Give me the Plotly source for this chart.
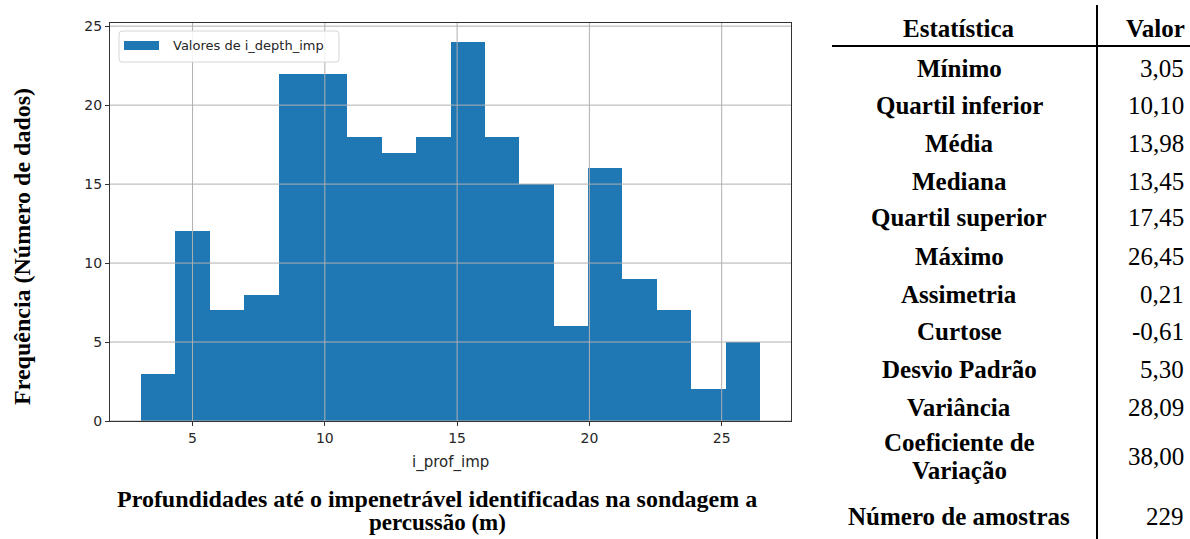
import plotly.graph_objects as go

# Histogram of depths to refusal (i_prof_imp)
bin_start = 3.05
bin_width = 1.3
counts = [3, 12, 7, 8, 22, 22, 18, 17, 18, 24, 18, 15, 6, 16, 9, 7, 2, 5]
series_name = "Valores de i_depth_imp"

x_ticks = [5, 10, 15, 20, 25]
y_ticks = [0, 5, 10, 15, 20, 25]

# Summary statistics table
stat_names = ["Mínimo", "Quartil inferior", "Média", "Mediana", "Quartil superior",
              "Máximo", "Assimetria", "Curtose", "Desvio Padrão", "Variância",
              "Coeficiente de|Variação", "Número de amostras"]
stat_values = ["3,05", "10,10", "13,98", "13,45", "17,45", "26,45", "0,21",
               "-0,61", "5,30", "28,09", "38,00", "229"]

W, H = 1190, 539
L, R, T, B = 110, 791, 23, 421
BAR_COLOR = "#1f77b4"

centers = [bin_start + bin_width * (i + 0.5) for i in range(len(counts))]
x_min = bin_start
x_max = bin_start + bin_width * len(counts)
pad = 0.05 * (x_max - x_min)
y_top = max(counts) * 1.05


def px(x):
    return (x - L) / (R - L)


def py(y):
    return (B - y) / (B - T)


fig = go.Figure()
fig.add_trace(go.Bar(
    x=centers, y=counts, width=bin_width,
    marker=dict(color=BAR_COLOR, line=dict(width=0)),
    name=series_name, showlegend=False,
))

shapes = []
# grid lines drawn over the bars
for t in x_ticks:
    shapes.append(dict(type="line", xref="x", yref="paper", x0=t, x1=t, y0=0, y1=1,
                       line=dict(color="#b0b0b0", width=1), layer="above"))
for t in y_ticks:
    shapes.append(dict(type="line", xref="paper", yref="y", x0=0, x1=1, y0=t, y1=t,
                       line=dict(color="#b0b0b0", width=1), layer="above"))

# legend box (rounded frame, wide patch, label)
lx0, lx1, ly0, ly1, rr = px(119), px(339), py(31), py(62), 3
sx, sy = 1.0 / (R - L), 1.0 / (B - T)
path = (f"M {lx0 + rr*sx},{ly0} L {lx1 - rr*sx},{ly0} Q {lx1},{ly0} {lx1},{ly0 - rr*sy} "
        f"L {lx1},{ly1 + rr*sy} Q {lx1},{ly1} {lx1 - rr*sx},{ly1} "
        f"L {lx0 + rr*sx},{ly1} Q {lx0},{ly1} {lx0},{ly1 + rr*sy} "
        f"L {lx0},{ly0 - rr*sy} Q {lx0},{ly0} {lx0 + rr*sx},{ly0} Z")
shapes.append(dict(type="path", xref="paper", yref="paper", path=path,
                   fillcolor="rgba(255,255,255,0.85)", line=dict(color="#d6d6d6", width=1),
                   layer="above"))
shapes.append(dict(type="rect", xref="paper", yref="paper",
                   x0=px(124), x1=px(159), y0=py(41), y1=py(50),
                   fillcolor=BAR_COLOR, line=dict(width=0), layer="above"))

# table rules
shapes.append(dict(type="line", xref="paper", yref="paper",
                   x0=px(1097), x1=px(1097), y0=py(5), y1=py(539),
                   line=dict(color="black", width=2)))
shapes.append(dict(type="line", xref="paper", yref="paper",
                   x0=px(832), x1=px(1190), y0=py(46), y1=py(46),
                   line=dict(color="black", width=2)))

serif = "Liberation Serif, Times New Roman, serif"
TS = 25


def text(t, x, y, size, anchor="center", family=serif, color="black", angle=0):
    return dict(text=t, x=px(x), y=py(y), xref="paper", yref="paper", showarrow=False,
                font=dict(family=family, size=size, color=color), textangle=angle,
                xanchor=anchor, yanchor="middle")


annotations = [
    text("<b>Estatística</b>", 959, 28, TS),
    text("<b>Valor</b>", 1187, 28, TS, anchor="right"),
]
row_y = [69, 105, 143, 181, 218, 256, 294, 331, 369, 407, 456, 516]
for name, val, ry in zip(stat_names, stat_values, row_y):
    parts = name.split("|")
    if len(parts) == 1:
        annotations.append(text("<b>" + name + "</b>", 959, ry, TS))
    else:
        annotations.append(text("<b>" + parts[0] + "</b>", 959, ry - 14, TS))
        annotations.append(text("<b>" + parts[1] + "</b>", 959, ry + 14, TS))
    annotations.append(text(val, 1186, ry, TS, anchor="right"))

# legend label
annotations.append(text(series_name, 171, 46, 13, anchor="left",
                        family="DejaVu Sans", color="#262626"))

# axis captions
annotations.append(text("<b>Frequência (Número de dados)</b>", 22, 247, 24, angle=-90))
annotations.append(text("i_prof_imp", 450, 463, 15, family="DejaVu Sans", color="#262626"))
annotations.append(text("<b>Profundidades até o impenetrável identificadas na sondagem a</b>",
                        437, 499, 24))
annotations.append(text("<b>percussão (m)</b>", 437, 522, 23))

fig.update_layout(
    width=W, height=H,
    margin=dict(l=L, r=W - R, t=T, b=H - B, pad=0),
    paper_bgcolor="white", plot_bgcolor="white",
    bargap=0, showlegend=False,
    shapes=shapes, annotations=annotations,
)
fig.update_xaxes(range=[x_min - pad, x_max + pad], tickvals=x_ticks,
                 showgrid=False, zeroline=False,
                 showline=True, mirror=True, linecolor="#333333", linewidth=1,
                 ticks="outside", ticklen=4, tickcolor="#333333",
                 tickfont=dict(family="DejaVu Sans", size=14, color="#262626"))
fig.update_yaxes(range=[0, y_top], tickvals=y_ticks,
                 showgrid=False, zeroline=False,
                 showline=True, mirror=True, linecolor="#333333", linewidth=1,
                 ticks="outside", ticklen=4, tickcolor="#333333",
                 tickfont=dict(family="DejaVu Sans", size=14, color="#262626"))

fig.write_html("out.html")
